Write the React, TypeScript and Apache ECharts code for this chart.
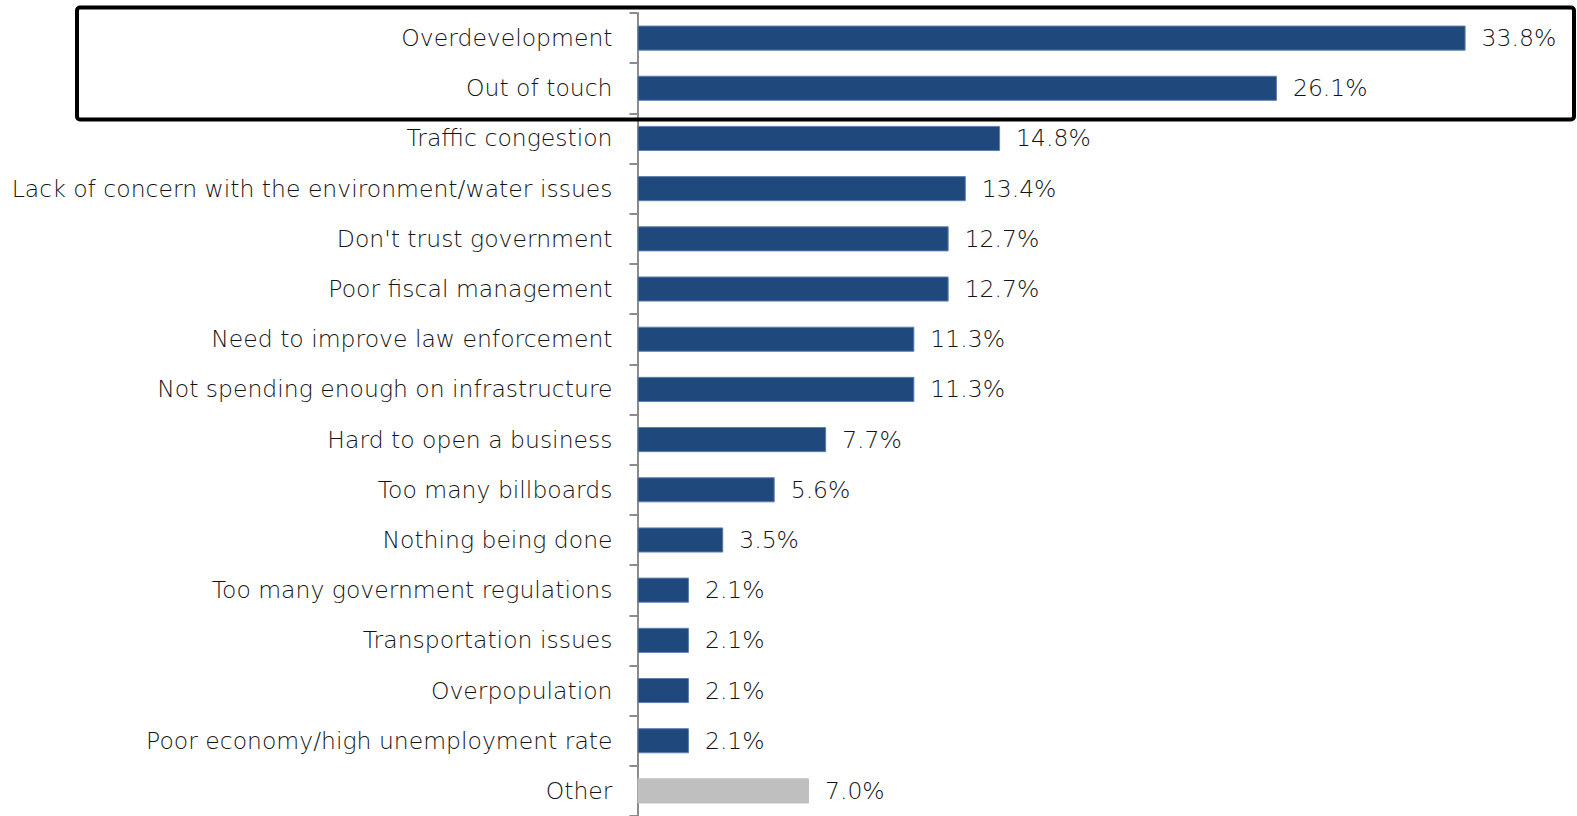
import React, { useEffect, useRef } from "react";
import * as echarts from "echarts";

const categories = [
  "Overdevelopment",
  "Out of touch",
  "Traffic congestion",
  "Lack of concern with the environment/water issues",
  "Don't trust government",
  "Poor fiscal management",
  "Need to improve law enforcement",
  "Not spending enough on infrastructure",
  "Hard to open a business",
  "Too many billboards",
  "Nothing being done",
  "Too many government regulations",
  "Transportation issues",
  "Overpopulation",
  "Poor economy/high unemployment rate",
  "Other",
];

const values = [33.8, 26.1, 14.8, 13.4, 12.7, 12.7, 11.3, 11.3, 7.7, 5.6, 3.5, 2.1, 2.1, 2.1, 2.1, 7.0];

const MAIN_COLOR = "#1F497D";
const OTHER_COLOR = "#BFBFBF";

export default function App() {
  const ref = useRef<HTMLDivElement>(null);

  useEffect(() => {
    if (!ref.current) return;
    const chart = echarts.init(ref.current, null, { renderer: "svg" });
    const font = "'DejaVu Sans', 'Open Sans', sans-serif";
    chart.setOption({
      animation: false,
      backgroundColor: "#ffffff",
      grid: { left: 637.5, top: 13, width: 882, height: 805 },
      xAxis: {
        type: "value",
        min: 0,
        max: 36,
        show: false,
      },
      yAxis: {
        type: "category",
        inverse: true,
        data: categories,
        axisLine: { show: true, lineStyle: { color: "#8C8C8C", width: 2 } },
        axisTick: { show: true, length: 8, lineStyle: { color: "#8C8C8C", width: 2 } },
        axisLabel: {
          margin: 25,
          fontSize: 23.5,
          fontFamily: font,
          fontWeight: 200,
          color: "#141414",
          padding: [6, 0, 0, 0],
        },
        splitLine: { show: false },
      },
      series: [
        {
          type: "bar",
          barWidth: "50%",
          data: values.map((v, i) => ({
            value: v,
            itemStyle: {
              color: categories[i] === "Other" ? OTHER_COLOR : MAIN_COLOR,
              borderColor: categories[i] === "Other" ? OTHER_COLOR : "#5E7FAE",
              borderWidth: 1,
            },
          })),
          label: {
            show: true,
            position: "right",
            distance: 16,
            fontSize: 23.5,
            fontFamily: font,
            fontWeight: 200,
            color: "#141414",
            padding: [6, 0, 0, 0],
            formatter: (p: any) => Number(p.value).toFixed(1) + "%",
          },
        },
      ],
      graphic: [
        {
          type: "rect",
          shape: { x: 77, y: 7.5, width: 1497, height: 112, r: 3 },
          style: { fill: "none", stroke: "#000000", lineWidth: 4 },
          z: 100,
        },
      ],
    });
    return () => chart.dispose();
  }, []);

  return (
    <div
      ref={ref}
      style={{ position: "fixed", left: 0, top: 0, width: 1577, height: 816 }}
    />
  );
}
